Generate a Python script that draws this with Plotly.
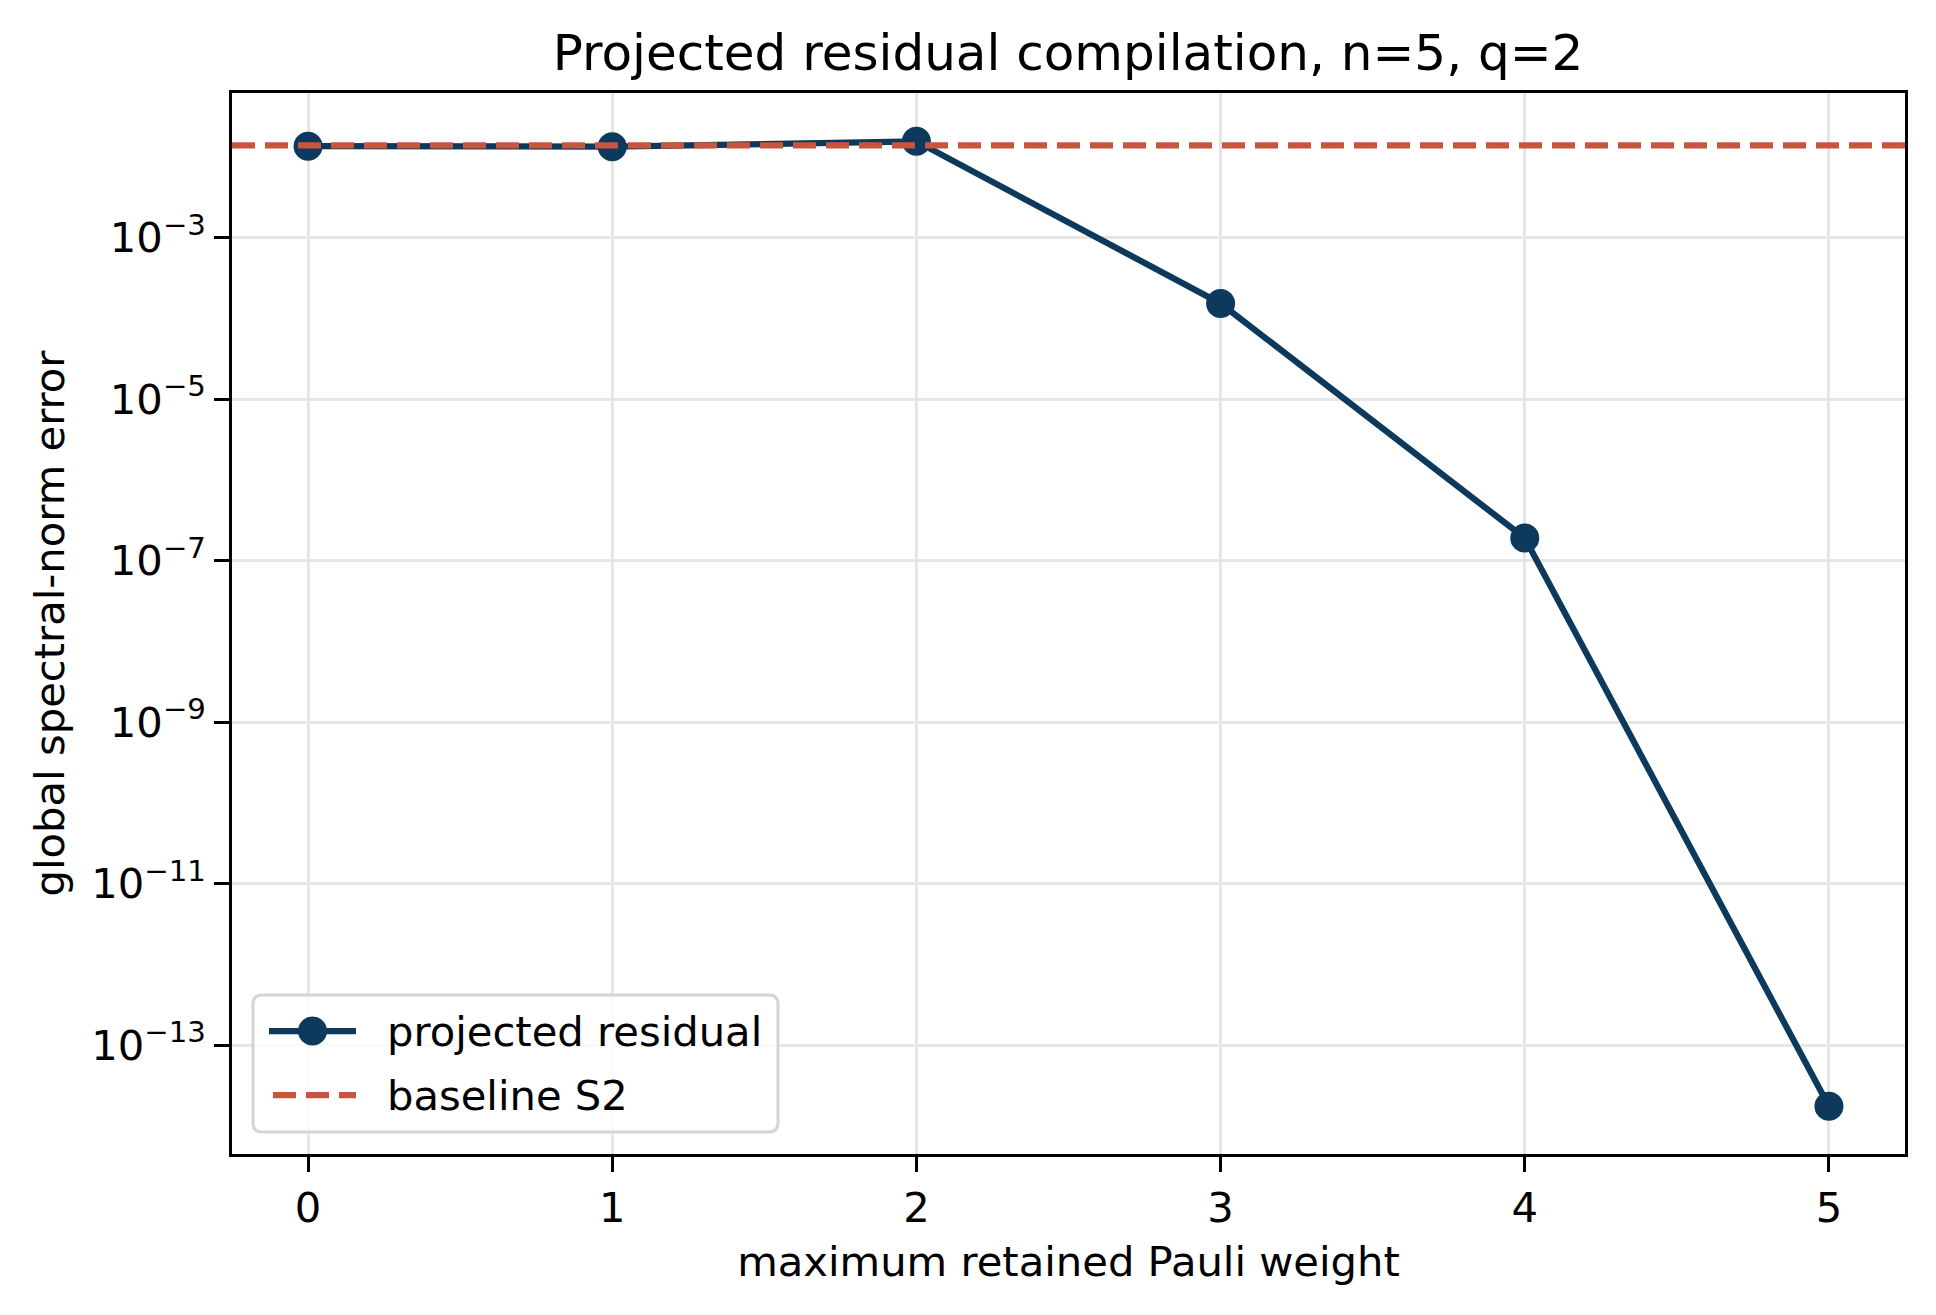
import plotly.graph_objects as go

weights = [0, 1, 2, 3, 4, 5]
residual = [1.37e-2, 1.35e-2, 1.57e-2, 1.54e-4, 1.91e-7, 1.74e-14]
baseline_s2 = 1.40e-2
ytick_exps = [-3, -5, -7, -9, -11, -13]
legend_labels = ["projected residual", "baseline S2"]

navy = "#0d3a5c"
orange = "#c8553d"
FONT = "DejaVu Sans"
FS = 41.7

W, H = 1936, 1315
ML, MR, MT, MB = 232, 31, 93, 161
PW, PH = W - ML - MR, H - MT - MB


def dx(px):  # absolute pixel x -> x domain fraction
    return (px - ML) / PW


def dy(py):  # absolute pixel y -> y domain fraction
    return (H - MB - py) / PH


fig = go.Figure()
fig.add_trace(go.Scatter(
    x=weights, y=residual, mode="lines+markers", name=legend_labels[0],
    line=dict(color=navy, width=6.25),
    marker=dict(color=navy, size=29, line=dict(width=0)),
    showlegend=False,
))
fig.add_hline(y=baseline_s2, line=dict(color=orange, width=6.25, dash="23px,10px"),
              layer="above")

# custom legend (matplotlib style)
x0, x1, y0, y1 = 253, 778, 995, 1132
r = 9
rx, ry = r / PW, r / PH
X0, X1, Y0, Y1 = dx(x0), dx(x1), dy(y1), dy(y0)
path = (f"M {X0+rx},{Y0} L {X1-rx},{Y0} Q {X1},{Y0} {X1},{Y0+ry} "
        f"L {X1},{Y1-ry} Q {X1},{Y1} {X1-rx},{Y1} L {X0+rx},{Y1} "
        f"Q {X0},{Y1} {X0},{Y1-ry} L {X0},{Y0+ry} Q {X0},{Y0} {X0+rx},{Y0} Z")
fig.add_shape(type="path", path=path, xref="x domain", yref="y domain",
              fillcolor="rgba(255,255,255,0.8)", line=dict(color="#d5d5d5", width=3),
              layer="above")
row_y = [1031, 1095]
sx0, sx1 = 269, 356
fig.add_shape(type="line", xref="x domain", yref="y domain",
              x0=dx(sx0), x1=dx(sx1), y0=dy(row_y[0]), y1=dy(row_y[0]),
              line=dict(color=navy, width=6.25), layer="above")
cx, cr = (sx0 + sx1) / 2, 14.5
fig.add_shape(type="circle", xref="x domain", yref="y domain",
              x0=dx(cx - cr), x1=dx(cx + cr), y0=dy(row_y[0] + cr), y1=dy(row_y[0] - cr),
              fillcolor=navy, line=dict(width=0), layer="above")
fig.add_shape(type="line", xref="x domain", yref="y domain",
              x0=dx(sx0 + 4), x1=dx(sx1), y0=dy(row_y[1]), y1=dy(row_y[1]),
              line=dict(color=orange, width=6.25, dash="23px,10px"), layer="above")
for lab, ry_ in zip(legend_labels, row_y):
    fig.add_annotation(text=lab, xref="x domain", yref="y domain", x=dx(385), y=dy(ry_),
                       xanchor="left", yanchor="middle", showarrow=False,
                       font=dict(size=FS, family=FONT, color="black"))

fig.update_layout(
    width=W, height=H,
    margin=dict(l=ML, r=MR, t=MT, b=MB),
    paper_bgcolor="white", plot_bgcolor="white",
    font=dict(family=FONT, size=FS, color="black"),
    title=dict(text="Projected residual compilation, n=5, q=2", x=0.5517, xanchor="center",
               yref="container", y=1 - 52 / 1315, yanchor="middle",
               font=dict(size=50, family=FONT, color="black")),
    showlegend=False,
)
fig.update_xaxes(
    range=[-0.25, 5.25], tickvals=weights, ticktext=[str(w) for w in weights],
    showline=True, linecolor="black", linewidth=3.3, mirror=True,
    ticks="outside", ticklen=14.6, tickwidth=3.3, tickcolor="black",
    showgrid=True, gridcolor="#e6e6e6", gridwidth=3.3, zeroline=False,
    title=dict(text="maximum retained Pauli weight", standoff=17, font=dict(size=FS)),
)
fig.update_yaxes(
    type="log", range=[-14.35, -1.205],
    tickvals=[10.0 ** e for e in ytick_exps],
    ticktext=["10<sup>\u2212%d</sup>" % (-e) for e in ytick_exps],
    showline=True, linecolor="black", linewidth=3.3, mirror=True,
    ticks="outside", ticklen=14.6, tickwidth=3.3, tickcolor="black",
    showgrid=True, gridcolor="#e6e6e6", gridwidth=3.3, zeroline=False,
    title=dict(text="global spectral-norm error", standoff=14, font=dict(size=FS)),
)
fig.write_html("out.html")
